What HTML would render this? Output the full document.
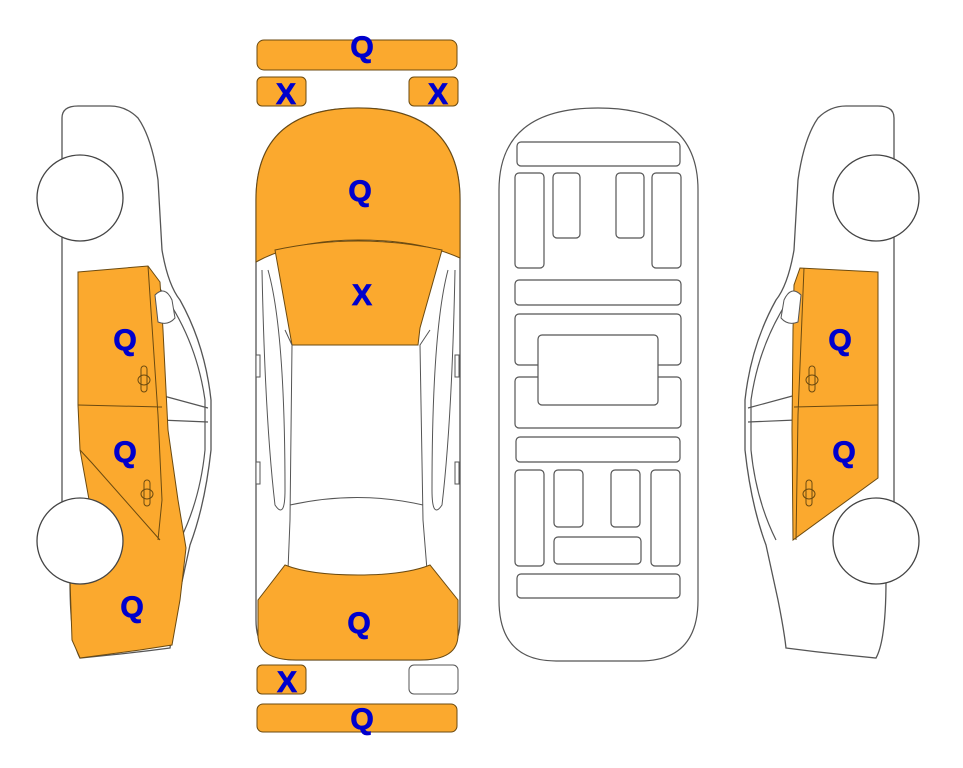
<!DOCTYPE html>
<html><head><meta charset="utf-8"><style>
html,body{margin:0;padding:0;background:#fff;}
svg{display:block}
text{font-family:"Liberation Sans",sans-serif;font-weight:900;fill:#0000cc;font-size:30px;text-anchor:middle;stroke:#0000cc;stroke-width:0.8}
</style></head><body>
<svg width="963" height="768" viewBox="0 0 963 768">
<defs>
<g id="side">
  <path d="M62,118 Q62,106 78,106 L110,106 Q126,106 138,118 Q152,138 158,180 L162,250 Q168,285 180,300 Q205,345 211,400 L211,450 Q205,505 190,545 L178,600 Q172,630 170,648 Q140,652 110,655 L80,658 Q70,640 70,580 L62,540 L62,118 Z" fill="#fff" stroke="#555" stroke-width="1.3"/>
  <path d="M150,276 Q195,330 205,400 L205,450 Q200,500 180,540" fill="none" stroke="#555" stroke-width="1.2"/>
  <path d="M160,395 L208,408 M160,420 L208,422" stroke="#555" stroke-width="1.2" fill="none"/>
</g>
</defs>

<use href="#side"/>
<path d="M78,272 L148,266 L160,282 L163,330 L168,430 L178,500 L186,548 L180,600 L172,645 L140,650 L80,658 L72,640 L70,580 L70,505 L90,505 L80,450 L78,405 Z" fill="#fba92e" stroke="#6b4a10" stroke-width="1"/>
<path d="M78,405 L162,407 M148,266 L158,415 L162,500 L158,540 M80,450 L92,463 L160,540" stroke="#6b4a10" stroke-width="1" fill="none"/>
<path d="M155,295 Q165,285 172,300 L175,318 Q168,326 158,322 Z" fill="#fff" stroke="#555"/>
<rect x="141" y="366" width="6" height="26" rx="3" fill="none" stroke="#6b4a10"/><ellipse cx="144" cy="380" rx="6" ry="5" fill="none" stroke="#6b4a10"/>
<rect x="144" y="480" width="6" height="26" rx="3" fill="none" stroke="#6b4a10"/><ellipse cx="147" cy="494" rx="6" ry="5" fill="none" stroke="#6b4a10"/>
<circle cx="80" cy="198" r="43" fill="#fff" stroke="#444" stroke-width="1.3"/>
<circle cx="80" cy="541" r="43" fill="#fff" stroke="#444" stroke-width="1.3"/>
<text x="125" y="350">Q</text><text x="125" y="462">Q</text><text x="132" y="617">Q</text>

<g transform="translate(956,0) scale(-1,1)">
<use href="#side"/>
<path d="M78,272 L156,268 L162,285 L163,330 L164,430 L163,540 L78,478 Z" fill="#fba92e" stroke="#6b4a10" stroke-width="1"/>
<path d="M78,405 L162,407 M152,268 L158,415 L160,540" stroke="#6b4a10" stroke-width="1" fill="none"/>
<path d="M155,295 Q165,285 172,300 L175,318 Q168,326 158,322 Z" fill="#fff" stroke="#555"/>
<rect x="141" y="366" width="6" height="26" rx="3" fill="none" stroke="#6b4a10"/><ellipse cx="144" cy="380" rx="6" ry="5" fill="none" stroke="#6b4a10"/>
<rect x="144" y="480" width="6" height="26" rx="3" fill="none" stroke="#6b4a10"/><ellipse cx="147" cy="494" rx="6" ry="5" fill="none" stroke="#6b4a10"/>
<circle cx="80" cy="198" r="43" fill="#fff" stroke="#444" stroke-width="1.3"/>
<circle cx="80" cy="541" r="43" fill="#fff" stroke="#444" stroke-width="1.3"/>
</g>
<text x="840" y="350">Q</text><text x="844" y="462">Q</text>

<rect x="257" y="40" width="200" height="30" rx="7" fill="#fba92e" stroke="#6b4a10"/>
<rect x="257" y="77" width="49" height="29" rx="5" fill="#fba92e" stroke="#6b4a10"/>
<rect x="409" y="77" width="49" height="29" rx="5" fill="#fba92e" stroke="#6b4a10"/>
<text x="362" y="57">Q</text><text x="286" y="104">X</text><text x="438" y="104">X</text>

<path d="M256,200 Q256,108 358,108 Q460,108 460,200 L460,620 Q460,660 420,660 L296,660 Q256,660 256,620 Z" fill="#fff" stroke="#555" stroke-width="1.3"/>
<path d="M256,200 Q256,108 358,108 Q460,108 460,200 L460,258 Q420,240 358,240 Q296,240 256,262 Z" fill="#fba92e" stroke="#6b4a10"/>
<path d="M275,250 Q358,232 442,250 L420,328 L418,345 L292,345 Z" fill="#fba92e" stroke="#6b4a10"/>
<path d="M285,330 L292,345 L290,520 L288,570 M430,330 L420,345 L423,520 L427,570" stroke="#555" fill="none"/>
<path d="M268,270 Q285,330 285,490 Q285,520 275,505 Q265,420 262,270 M448,270 Q432,330 432,490 Q432,520 442,505 Q452,420 455,270" stroke="#555" fill="none"/>
<path d="M290,505 Q358,490 423,505" stroke="#555" fill="none"/>
<path d="M258,600 L285,565 Q310,575 358,575 Q405,575 430,565 L458,600 L458,635 Q458,660 420,660 L296,660 Q258,660 258,635 Z" fill="#fba92e" stroke="#6b4a10"/>
<rect x="256" y="355" width="4" height="22" fill="#fff" stroke="#555"/><rect x="455" y="355" width="4" height="22" fill="#fff" stroke="#555"/>
<rect x="256" y="462" width="4" height="22" fill="#fff" stroke="#555"/><rect x="455" y="462" width="4" height="22" fill="#fff" stroke="#555"/>
<text x="360" y="201">Q</text><text x="362" y="305">X</text><text x="359" y="633">Q</text>

<rect x="257" y="665" width="49" height="29" rx="5" fill="#fba92e" stroke="#6b4a10"/>
<rect x="409" y="665" width="49" height="29" rx="5" fill="#fff" stroke="#555"/>
<rect x="257" y="704" width="200" height="28" rx="6" fill="#fba92e" stroke="#6b4a10"/>
<text x="287" y="692">X</text><text x="362" y="729">Q</text>

<g fill="#fff" stroke="#555" stroke-width="1.2">
<path d="M499,190 Q499,108 598,108 Q698,108 698,190 L698,600 Q698,661 640,661 L556,661 Q499,661 499,600 Z"/>
<rect x="517" y="142" width="163" height="24" rx="4"/>
<rect x="515" y="173" width="29" height="95" rx="4"/>
<rect x="553" y="173" width="27" height="65" rx="4"/>
<rect x="616" y="173" width="28" height="65" rx="4"/>
<rect x="652" y="173" width="29" height="95" rx="4"/>
<rect x="515" y="280" width="166" height="25" rx="4"/>
<rect x="515" y="314" width="166" height="51" rx="4"/>
<rect x="515" y="377" width="166" height="51" rx="4"/>
<rect x="538" y="335" width="120" height="70" rx="4"/>
<rect x="516" y="437" width="164" height="25" rx="4"/>
<rect x="515" y="470" width="29" height="96" rx="4"/>
<rect x="554" y="470" width="29" height="57" rx="4"/>
<rect x="611" y="470" width="29" height="57" rx="4"/>
<rect x="554" y="537" width="87" height="27" rx="4"/>
<rect x="651" y="470" width="29" height="96" rx="4"/>
<rect x="517" y="574" width="163" height="24" rx="4"/>
</g>
</svg>
</body></html>
